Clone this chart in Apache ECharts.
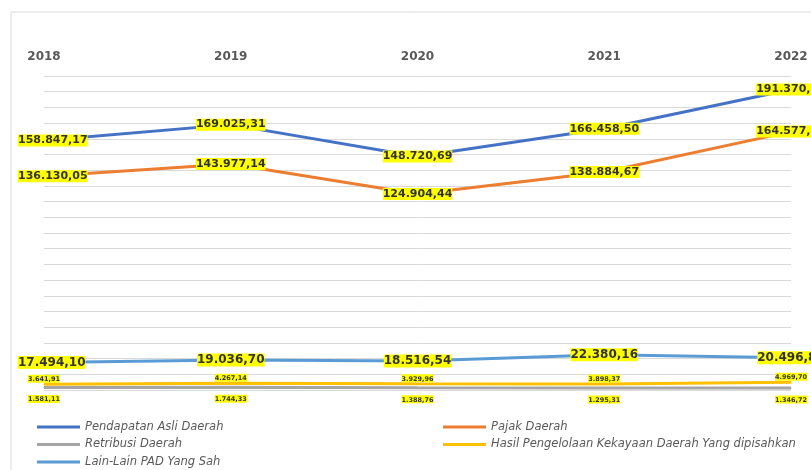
<!DOCTYPE html>
<html>
<head>
<meta charset="utf-8">
<title>PAD</title>
<script src="https://cdn.jsdelivr.net/npm/echarts@6/dist/echarts.min.js"></script>
<style>
	html, body { margin: 0; padding: 0; background: #fff; }
	#lineGraph { width: 811px; height: 470px; }
</style>
</head>
<body>
<div id="lineGraph"></div>
<script>
// data
var tahunArray = ['2018', '2019', '2020', '2021', '2022'];
var padArray = [158847.17, 169025.31, 148720.69, 166458.50, 191370.60];
var pajakArray = [136130.05, 143977.14, 124904.44, 138884.67, 164577.30];
var retribusiArray = [1581.11, 1744.33, 1388.76, 1295.31, 1346.72];
var hasilArray = [3641.91, 4267.14, 3929.96, 3898.37, 4969.70];
var lainArray = [17494.10, 19036.70, 18516.54, 22380.16, 20496.80];

var namaSeries = [
	'Pendapatan Asli Daerah',
	'Pajak Daerah',
	'Retribusi Daerah',
	'Hasil Pengelolaan Kekayaan Daerah Yang dipisahkan',
	'Lain-Lain PAD Yang Sah'
];
var warnaSeries = ['#4472C4', '#ED7D31', '#A5A5A5', '#FFC000', '#5B9BD5'];

// format 158.847,17
function formatAngka(v) {
	var s = v.toFixed(2).split('.');
	var ribuan = s[0].replace(/\B(?=(\d{3})+(?!\d))/g, '.');
	return ribuan + ',' + s[1];
}

function buatSeries(idx, data, posisi, ukuran, jarak) {
	return {
		name: namaSeries[idx],
		type: 'line',
		data: data,
		symbol: 'circle',
		symbolSize: 1,
		color: warnaSeries[idx],
		lineStyle: { width: 3, color: warnaSeries[idx] },
		itemStyle: { color: warnaSeries[idx] },
		label: {
			show: true,
			position: posisi,
			distance: jarak,
			formatter: function (p) { return formatAngka(p.value); },
			fontFamily: 'DejaVu Sans',
			fontWeight: 'bold',
			fontSize: ukuran,
			color: '#333333',
			backgroundColor: '#FFFF00',
			padding: [1, 0, 0, 0]
		},
		labelLayout: function (p) {
			// label tetap di dalam area grafik
			if (p.labelRect.x < 18) {
				return { dx: 18 - p.labelRect.x };
			}
			return {};
		},
		emphasis: { disabled: true }
	};
}

var legendText = {
	fontFamily: 'DejaVu Sans',
	fontStyle: 'italic',
	fontSize: 11.5,
	lineHeight: 12,
	color: '#595959'
};

var myChart = echarts.init(document.getElementById('lineGraph'));
var option = {
	animation: false,
	backgroundColor: '#ffffff',
	graphic: [{
		type: 'rect',
		shape: { x: 11, y: 12, width: 900, height: 500 },
		style: { fill: 'none', stroke: '#d9d9d9', lineWidth: 1 }
	}],
	legend: [{
		orient: 'vertical',
		left: 37,
		top: 421,
		height: 80,
		padding: 0,
		itemWidth: 43,
		itemHeight: 3,
		itemGap: 5.5,
		icon: 'rect',
		textStyle: legendText,
		data: [namaSeries[0], namaSeries[2], namaSeries[4]]
	}, {
		orient: 'vertical',
		left: 443,
		top: 421,
		height: 80,
		padding: 0,
		itemWidth: 43,
		itemHeight: 3,
		itemGap: 5.5,
		icon: 'rect',
		textStyle: legendText,
		data: [namaSeries[1], namaSeries[3]]
	}],
	grid: {
		left: 44,
		right: 20,
		top: 76,
		bottom: 80
	},
	xAxis: {
		type: 'category',
		position: 'top',
		boundaryGap: false,
		data: tahunArray,
		axisLine: { show: false },
		axisTick: { show: false },
		axisLabel: {
			margin: 13,
			fontFamily: 'DejaVu Sans',
			fontWeight: 'bold',
			fontSize: 12,
			color: '#595959'
		}
	},
	yAxis: {
		type: 'value',
		min: 0,
		max: 200000,
		interval: 10000,
		axisLine: { show: false },
		axisTick: { show: false },
		axisLabel: { show: false },
		splitLine: { lineStyle: { color: '#d9d9d9', width: 1 } }
	},
	series: [
		buatSeries(0, padArray, 'inside', 11, 0),
		buatSeries(1, pajakArray, 'inside', 11, 0),
		buatSeries(2, retribusiArray, 'bottom', 6.5, 7),
		buatSeries(3, hasilArray, 'top', 6.5, 1),
		buatSeries(4, lainArray, 'inside', 12, 0)
	]
};

if (option && typeof option === "object") {
	myChart.setOption(option, true);
}
</script>
</body>
</html>
